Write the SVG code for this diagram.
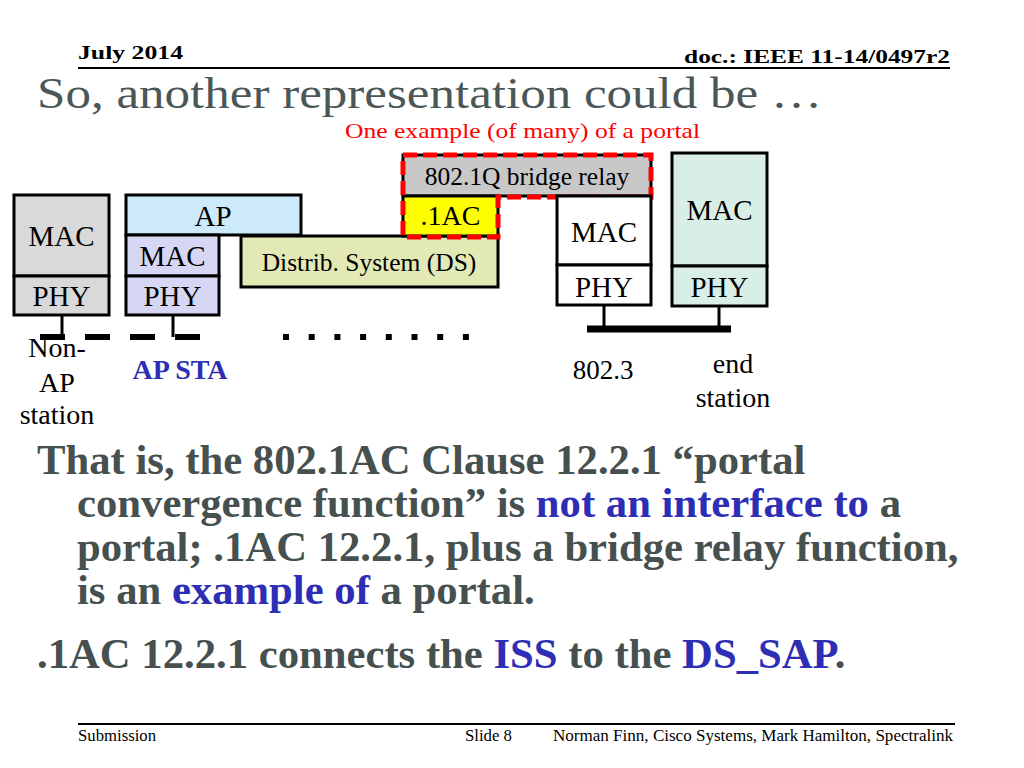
<svg xmlns="http://www.w3.org/2000/svg" width="1024" height="768" viewBox="0 0 1024 768">
<style>
.box{stroke:#000;stroke-width:3}
.t{font-family:"Liberation Serif","Times New Roman",serif;fill:#000}
.lbl{font-size:29px;text-anchor:middle}
.lab{font-size:28px;text-anchor:middle}
.body{font-family:"Liberation Serif","Times New Roman",serif;font-weight:bold;font-size:42.7px;fill:#46504f}
.blue{fill:#2e2eb5}
.wire{stroke:#000;stroke-width:3;fill:none}
</style>
<rect width="1024" height="768" fill="#fff"/>
<!-- header -->
<text class="t" x="78" y="59" font-size="19" font-weight="bold" textLength="105" lengthAdjust="spacingAndGlyphs">July 2014</text>
<text class="t" x="684" y="63" font-size="19" font-weight="bold" textLength="266" lengthAdjust="spacingAndGlyphs">doc.: IEEE 11-14/0497r2</text>
<line x1="78" y1="68" x2="950" y2="68" stroke="#000" stroke-width="2"/>
<text x="37" y="108" font-family="Liberation Serif, Times New Roman, serif" font-size="44" fill="#4b5757" textLength="785" lengthAdjust="spacingAndGlyphs">So, another representation could be …</text>
<text x="345" y="138" font-family="Liberation Serif, Times New Roman, serif" font-size="22" fill="#ff0000" textLength="355" lengthAdjust="spacingAndGlyphs">One example (of many) of a portal</text>

<!-- connectors -->
<g id="connectors">
<line x1="62" y1="315" x2="62" y2="337" class="wire"/>
<line x1="173" y1="315" x2="173" y2="337" class="wire"/>
<line x1="40" y1="337" x2="200" y2="337" stroke="#000" stroke-width="6" stroke-dasharray="25,20"/>
<line x1="283" y1="337" x2="470" y2="337" stroke="#000" stroke-width="6" stroke-dasharray="6,19.7"/>
<line x1="604" y1="305" x2="604" y2="329" class="wire"/>
<line x1="719" y1="305" x2="719" y2="329" class="wire"/>
<line x1="587" y1="329" x2="731" y2="329" stroke="#000" stroke-width="7"/>
</g>

<!-- non-AP station -->
<g id="nonap">
<rect class="box" x="14" y="195" width="95" height="81" fill="#d9d9d9"/>
<rect class="box" x="14" y="276" width="95" height="39" fill="#d9d9d9"/>
<text class="t lbl" x="61.5" y="246">MAC</text>
<text class="t lbl" x="61.5" y="306">PHY</text>
</g>

<!-- AP -->
<g id="ap">
<rect class="box" x="126" y="195" width="175" height="40" fill="#cceaf9"/>
<text class="t lbl" x="213" y="226">AP</text>
<rect class="box" x="126" y="235" width="93" height="41" fill="#d6d6f5"/>
<rect class="box" x="126" y="276" width="93" height="39" fill="#d6d6f5"/>
<text class="t lbl" x="172.5" y="266">MAC</text>
<text class="t lbl" x="172.5" y="306">PHY</text>
</g>

<!-- DS -->
<g id="ds">
<rect class="box" x="241" y="236" width="257" height="51" fill="#e2e9b5"/>
<text class="t" x="369" y="271" font-size="25.5" text-anchor="middle">Distrib. System (DS)</text>
</g>

<!-- portal -->
<g id="portal">
<rect class="box" x="403" y="155" width="248" height="41" fill="#c8c8c8"/>
<text class="t" x="527" y="185" font-size="25.5" text-anchor="middle">802.1Q bridge relay</text>
<rect class="box" x="403" y="196" width="95" height="40" fill="#ffff00"/>
<text class="t" x="450.5" y="225" font-size="28" text-anchor="middle">.1AC</text>
<path d="M403,155 H651 V197 H498 V237 H403 Z" fill="none" stroke="#ff0000" stroke-width="5" stroke-dasharray="14,6"/>
</g>

<!-- bridge MAC/PHY -->
<g id="bridge">
<rect class="box" x="557" y="196" width="94" height="69" fill="#fff"/>
<rect class="box" x="557" y="265" width="94" height="40" fill="#fff"/>
<text class="t lbl" x="604" y="242">MAC</text>
<text class="t lbl" x="604" y="297">PHY</text>
</g>

<!-- end station -->
<g id="endstation">
<rect class="box" x="672" y="153" width="95" height="113" fill="#d9efe6"/>
<rect class="box" x="672" y="266" width="95" height="40" fill="#d9efe6"/>
<text class="t lbl" x="719.5" y="220">MAC</text>
<text class="t lbl" x="719.5" y="297">PHY</text>
</g>

<!-- labels -->
<g id="labels">
<text class="t lab"><tspan x="57" y="357">Non-</tspan><tspan x="57" y="392">AP</tspan><tspan x="57" y="424">station</tspan></text>
<text x="180" y="379" font-family="Liberation Serif, Times New Roman, serif" font-size="28" font-weight="bold" fill="#2e2eb5" text-anchor="middle">AP STA</text>
<text class="t" x="603" y="379" font-size="27" text-anchor="middle">802.3</text>
<text class="t lab"><tspan x="733" y="373">end</tspan><tspan x="733" y="407">station</tspan></text>
</g>

<!-- body -->
<text class="body" x="37" y="474">That is, the 802.1AC Clause 12.2.1 “portal</text>
<text class="body" x="77" y="517">convergence function” is <tspan class="blue">not an interface to</tspan> a</text>
<text class="body" x="77" y="561">portal; .1AC 12.2.1, plus a bridge relay function,</text>
<text class="body" x="77" y="604">is an <tspan class="blue">example of</tspan> a portal.</text>
<text class="body" x="37" y="668">.1AC 12.2.1 connects the <tspan class="blue">ISS</tspan> to the <tspan class="blue">DS_SAP</tspan>.</text>

<!-- footer -->
<line x1="78" y1="724" x2="955" y2="724" stroke="#000" stroke-width="2"/>
<text class="t" x="78" y="741" font-size="16" textLength="78" lengthAdjust="spacingAndGlyphs">Submission</text>
<text class="t" x="465" y="741" font-size="16" textLength="47" lengthAdjust="spacingAndGlyphs">Slide 8</text>
<text class="t" x="553" y="741" font-size="16" textLength="400" lengthAdjust="spacingAndGlyphs">Norman Finn, Cisco Systems, Mark Hamilton, Spectralink</text>
</svg>
